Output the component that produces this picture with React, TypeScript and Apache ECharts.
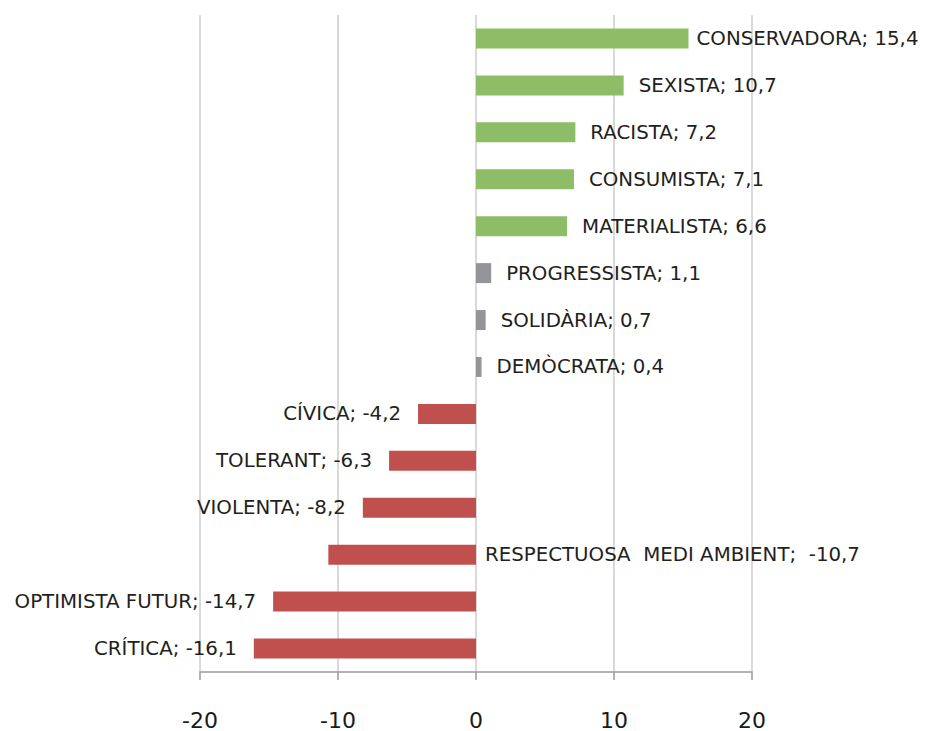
import React, { useEffect, useRef } from "react";
import * as echarts from "echarts";

const categories = [
  "CONSERVADORA",
  "SEXISTA",
  "RACISTA",
  "CONSUMISTA",
  "MATERIALISTA",
  "PROGRESSISTA",
  "SOLIDÀRIA",
  "DEMÒCRATA",
  "CÍVICA",
  "TOLERANT",
  "VIOLENTA",
  "RESPECTUOSA  MEDI AMBIENT",
  "OPTIMISTA FUTUR",
  "CRÍTICA",
];
const values = [15.4, 10.7, 7.2, 7.1, 6.6, 1.1, 0.7, 0.4, -4.2, -6.3, -8.2, -10.7, -14.7, -16.1];
const groups = ["pos", "pos", "pos", "pos", "pos", "neu", "neu", "neu", "neg", "neg", "neg", "neg", "neg", "neg"];
const xTicks = [-20, -10, 0, 10, 20];

const groupColors: Record<string, string> = {
  pos: "#8DBE67",
  neu: "#939598",
  neg: "#C0504D",
};

const FONT = "'DejaVu Sans', sans-serif";

export default function App() {
  const ref = useRef<HTMLDivElement>(null);
  useEffect(() => {
    if (!ref.current) return;
    const chart = echarts.init(ref.current, null, { renderer: "svg" });
    const fmt = (v: number) => v.toFixed(1).replace(".", ",");
    const data = values.map((v, i) => {
      const name = categories[i];
      const sep = name.includes("  ") ? ";  " : "; ";
      const label: any = {
        show: true,
        formatter: `${name}${sep}${fmt(v)}`,
        position: v >= 0 ? "right" : "left",
        distance: v >= 0 ? 15 : 17,
      };
      if (name === "CONSERVADORA") label.distance = 8;
      if (name.startsWith("RESPECTUOSA")) {
        label.position = ["100%", "50%"];
        label.offset = [9, 0];
        label.align = "left";
        label.verticalAlign = "middle";
      }
      return {
        value: v,
        name,
        itemStyle: { color: groupColors[groups[i]] },
        label,
      };
    });
    chart.setOption({
      animation: false,
      grid: { left: 200, right: 178, top: 15, bottom: 53, containLabel: false },
      xAxis: {
        type: "value",
        min: xTicks[0],
        max: xTicks[xTicks.length - 1],
        interval: 10,
        axisLine: { show: true, lineStyle: { color: "#9b9b9b", width: 1.5 } },
        axisTick: { show: true, length: 8, lineStyle: { color: "#9b9b9b", width: 1.5 } },
        axisLabel: {
          margin: 37,
          color: "#1a1a1a",
          fontSize: 22,
          fontFamily: FONT,
        },
        splitLine: { show: true, lineStyle: { color: "#d9d9d9", width: 2 } },
      },
      yAxis: {
        type: "category",
        inverse: true,
        data: categories,
        axisLine: { show: false },
        axisTick: { show: false },
        axisLabel: { show: false },
        splitLine: { show: false },
      },
      series: [
        {
          type: "bar",
          data,
          barWidth: 20,
          label: {
            color: "#231f20",
            fontSize: 19.8,
            fontFamily: FONT,
          },
        },
      ],
    });
    return () => chart.dispose();
  }, []);
  return (
    <div
      ref={ref}
      style={{ position: "fixed", left: 0, top: 0, width: 930, height: 731, background: "#fff" }}
    />
  );
}
